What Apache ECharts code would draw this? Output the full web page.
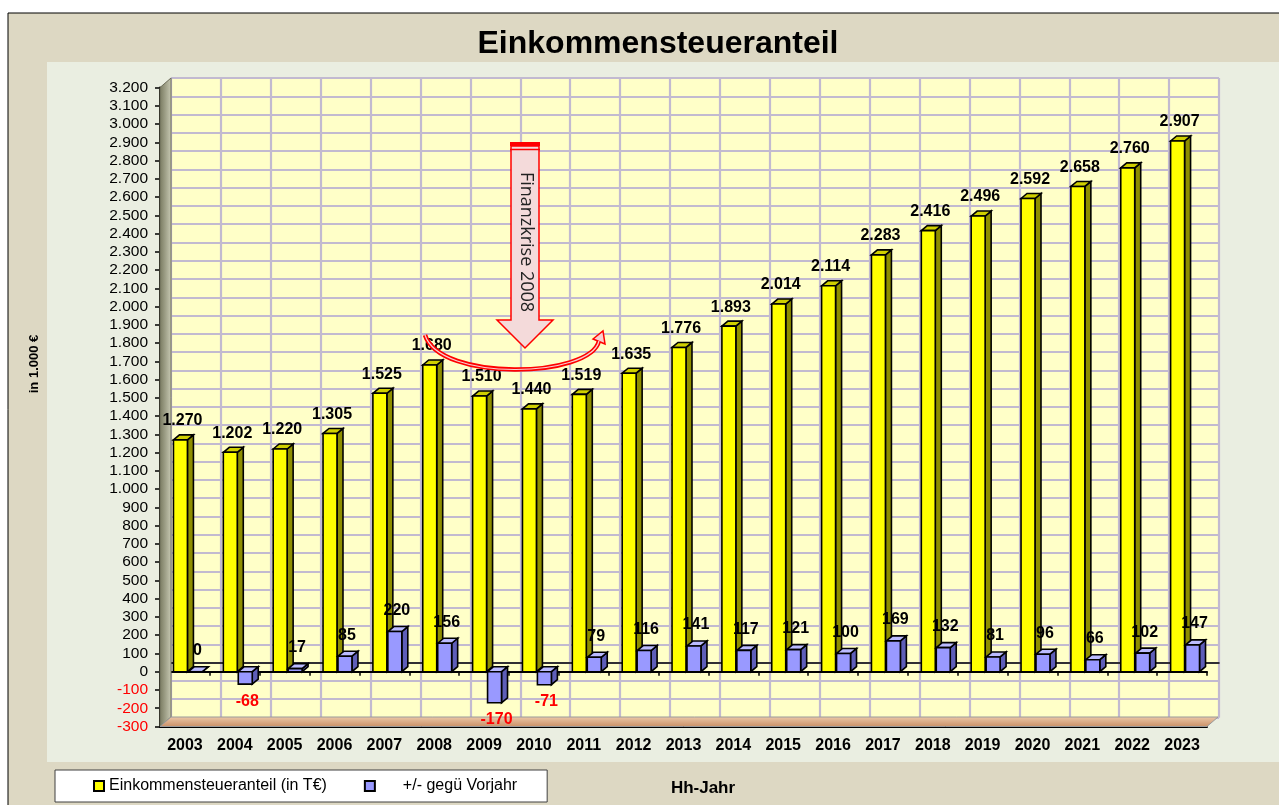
<!DOCTYPE html>
<html>
<head>
<meta charset="utf-8">
<title>Einkommensteueranteil</title>
<script src="https://cdn.jsdelivr.net/npm/echarts@6/dist/echarts.min.js"></script>
<style>
  html, body { margin: 0; padding: 0; background: #fff; }
  #chart { width: 1279px; height: 805px; }
</style>
</head>
<body>
<div id="chart"></div>
<script>
const years = ["2003", "2004", "2005", "2006", "2007", "2008", "2009", "2010", "2011", "2012", "2013",
  "2014", "2015", "2016", "2017", "2018", "2019", "2020", "2021", "2022", "2023"];
const steuerAnteil = [1270, 1202, 1220, 1305, 1525, 1680, 1510, 1440, 1519, 1635, 1776,
  1893, 2014, 2114, 2283, 2416, 2496, 2592, 2658, 2760, 2907];
const vorjahrDiff = [0, -68, 17, 85, 220, 156, -170, -71, 79, 116, 141,
  117, 121, 100, 169, 132, 81, 96, 66, 102, 147];

const FONT = "'Liberation Sans', Arial, sans-serif";
const DEPTH = [11, -9.5]; // 3D-Versatz der Rückwand
const BAR_DEPTH = [6, -5];

// 1270 -> "1.270"
function fmt(v) {
  const s = String(Math.abs(v)).replace(/\B(?=(\d{3})+(?!\d))/g, ".");
  return (v < 0 ? "-" : "") + s;
}

// ein 3D-Balken: offset/width als Anteil der Kategoriebreite
function bar3d(api, colors, offset, width, labelFn) {
  const idx = api.value(0);
  const val = api.value(1);
  const base = api.coord([idx, 0]);
  const top = api.coord([idx, val]);
  const bw = api.size([1, 0])[0];
  const x1 = base[0] + offset * bw;
  const x2 = x1 + width * bw;
  const yTop = Math.min(base[1], top[1]);
  const yBot = Math.max(base[1], top[1]);
  const dx = BAR_DEPTH[0], dy = BAR_DEPTH[1];
  const stroke = { stroke: "#000", lineWidth: 1.6 };
  const children = [
    { type: "polygon", shape: { points: [[x2, yTop], [x2 + dx, yTop + dy], [x2 + dx, yBot + dy], [x2, yBot]] },
      style: Object.assign({ fill: colors[1] }, stroke) },
    { type: "polygon", shape: { points: [[x1, yTop], [x1 + dx, yTop + dy], [x2 + dx, yTop + dy], [x2, yTop]] },
      style: Object.assign({ fill: colors[2] }, stroke) },
    { type: "rect", shape: { x: x1, y: yTop, width: x2 - x1, height: Math.max(yBot - yTop, 0.5) },
      style: Object.assign({ fill: colors[0] }, stroke) }
  ];
  const lab = labelFn(val, (x1 + x2) / 2 + 2, yTop, yBot);
  children.push({
    type: "text",
    style: { text: fmt(val), x: lab.x, y: lab.y, align: "center", verticalAlign: "middle",
      font: "bold 16px " + FONT, fill: lab.color }
  });
  return { type: "group", children: children };
}

const chart = echarts.init(document.getElementById("chart"));

chart.setOption({
  backgroundColor: "#ffffff",
  animation: false,
  title: {
    text: "Einkommensteueranteil",
    left: 653,
    top: 23,
    textAlign: "center",
    textStyle: { fontFamily: FONT, fontSize: 32, fontWeight: "bold", color: "#000" }
  },
  legend: {
    left: 55,
    top: 770,
    backgroundColor: "#ffffff",
    borderColor: "#404040",
    borderWidth: 1,
    padding: [8, 30, 8, 38],
    itemWidth: 10,
    itemHeight: 10,
    itemGap: 37,
    textStyle: { fontFamily: FONT, fontSize: 16, color: "#000" },
    data: [
      { name: "Einkommensteueranteil (in T€)", icon: "rect",
        itemStyle: { color: "#FFFF00", borderColor: "#000", borderWidth: 2 } },
      { name: "+/- gegü Vorjahr", icon: "rect",
        itemStyle: { color: "#9999FF", borderColor: "#000", borderWidth: 2 },
        textStyle: { padding: [0, 0, 0, 23] } }
    ]
  },
  graphic: [
    { type: "rect", z: -100, shape: { x: 8, y: 13, width: 1290, height: 810 },
      style: { fill: "#DDD8C3", stroke: "#000", lineWidth: 1 } },
    { type: "rect", z: -99, shape: { x: 47, y: 62, width: 1240, height: 700 },
      style: { fill: "#EAEEE1" } },
    { type: "text", z: 10, x: 34, y: 364, rotation: Math.PI / 2,
      style: { text: "in 1.000 €", font: "bold 13px " + FONT, fill: "#000", align: "center", verticalAlign: "middle" } },
    { type: "text", z: 10, x: 703, y: 788,
      style: { text: "Hh-Jahr", font: "bold 17px " + FONT, fill: "#000", align: "center", verticalAlign: "middle" } },
    // Pfeil "Finanzkrise 2008"
    { type: "polygon", z: 100,
      shape: { points: [[511, 146], [539, 146], [539, 320], [553, 320], [525, 348], [497, 320], [511, 320]] },
      style: { fill: "#F4DADA", stroke: "#FF0000", lineWidth: 1.5 } },
    { type: "rect", z: 101, shape: { x: 510, y: 142, width: 30, height: 4 }, style: { fill: "#FF0000" } },
    { type: "line", z: 101, shape: { x1: 510, y1: 149.5, x2: 540, y2: 149.5 }, style: { stroke: "#FF0000", lineWidth: 1.5 } },
    { type: "text", z: 102, x: 526, y: 242, rotation: -Math.PI / 2,
      style: { text: "Finanzkrise 2008", font: "18px 'Open Sans', sans-serif", fill: "#222", align: "center", verticalAlign: "middle" } },
    // gebogener Pfeil (hohl)
    { type: "bezierCurve", z: 100,
      shape: { x1: 425, y1: 335, cpx1: 440, cpy1: 382, cpx2: 590, cpy2: 378, x2: 599, y2: 341 },
      style: { stroke: "#FF0000", lineWidth: 4.5, fill: null } },
    { type: "bezierCurve", z: 101,
      shape: { x1: 425, y1: 335, cpx1: 440, cpy1: 382, cpx2: 590, cpy2: 378, x2: 599, y2: 341 },
      style: { stroke: "#F8D0D0", lineWidth: 1.2, fill: null } },
    { type: "polygon", z: 100, shape: { points: [[593, 339], [603, 331], [605, 344]] },
      style: { fill: "#F8D0D0", stroke: "#FF0000", lineWidth: 1.5 } }
  ],
  grid: [
    // Rückwand
    { left: 171, top: 78, width: 1048, height: 639.5, show: true,
      backgroundColor: "#FFFFC8", borderColor: "#A8A8A8", borderWidth: 1 },
    // Vorderebene
    { left: 160, top: 87.5, width: 1047, height: 639 }
  ],
  xAxis: [
    { gridIndex: 0, type: "category", data: years,
      axisLabel: { show: false }, axisTick: { show: false },
      axisLine: { show: true, onZero: true, lineStyle: { color: "#000", width: 1.5 } },
      splitLine: { show: true, lineStyle: { color: "#C2BAD0", width: 2.2 } } },
    { gridIndex: 1, type: "category", data: years,
      axisLabel: { show: false },
      axisTick: { show: true, length: 4, lineStyle: { color: "#000", width: 1.5 } },
      axisLine: { show: true, onZero: true, lineStyle: { color: "#000", width: 2 } } },
    { gridIndex: 1, type: "category", data: years, position: "bottom",
      axisLine: { show: true, onZero: false, lineStyle: { color: "#000", width: 2 } },
      axisTick: { show: false },
      axisLabel: { margin: 11, fontFamily: FONT, fontSize: 16, fontWeight: "bold", color: "#000" } }
  ],
  yAxis: [
    { gridIndex: 0, type: "value", min: -300, max: 3200, interval: 100,
      axisLabel: { show: false }, axisLine: { show: false }, axisTick: { show: false },
      splitLine: { show: true, lineStyle: { color: "#C2BAD0", width: 2.2 } } },
    { gridIndex: 1, type: "value", min: -300, max: 3200, interval: 100,
      splitLine: { show: false },
      axisLine: { show: true, lineStyle: { color: "#000", width: 2 } },
      axisTick: { show: true, length: 5, lineStyle: { color: "#000", width: 1.5 } },
      axisLabel: { margin: 12, fontFamily: FONT, fontSize: 15.5, formatter: fmt,
        color: (v) => (Number(v) < 0 ? "#FF0000" : "#000") } }
  ],
  series: [
    {
      // linke Seitenwand und Boden
      type: "custom",
      name: "rahmen",
      xAxisIndex: 1,
      yAxisIndex: 1,
      z: 1,
      silent: true,
      data: [[0, 0]],
      renderItem: function (params, api) {
        const bw = api.size([1, 0])[0];
        const left = api.coord([0, 0])[0] - bw / 2;
        const right = api.coord([years.length - 1, 0])[0] + bw / 2;
        const top = api.coord([0, 3200])[1];
        const bot = api.coord([0, -300])[1];
        const dx = DEPTH[0], dy = DEPTH[1];
        return {
          type: "group",
          children: [
            { type: "polygon",
              shape: { points: [[left, top], [left + dx, top + dy], [left + dx, bot + dy], [left, bot]] },
              style: { fill: new echarts.graphic.LinearGradient(0, 0, 1, 0, [
                { offset: 0, color: "#77785E" }, { offset: 1, color: "#C9CAB4" }]), stroke: "#6E6E5A", lineWidth: 1 } },
            { type: "polygon",
              shape: { points: [[left, bot], [right, bot], [right + dx, bot + dy], [left + dx, bot + dy]] },
              style: { fill: new echarts.graphic.LinearGradient(0, 0, 0, 1, [
                { offset: 0, color: "#ECC9AA" }, { offset: 1, color: "#C98F65" }]), stroke: "#9A9A9A", lineWidth: 1 } }
          ]
        };
      }
    },
    {
      type: "custom",
      name: "Einkommensteueranteil (in T€)",
      xAxisIndex: 1,
      yAxisIndex: 1,
      z: 3,
      itemStyle: { color: "#FFFF00", borderColor: "#000", borderWidth: 2 },
      data: steuerAnteil.map((v, i) => [i, v]),
      renderItem: function (params, api) {
        return bar3d(api, ["#FFFF00", "#8E8E00", "#D0D000"], -0.23, 0.28, function (val, cx, yTop) {
          return { x: cx, y: yTop - 19, color: "#000" };
        });
      }
    },
    {
      type: "custom",
      name: "+/- gegü Vorjahr",
      xAxisIndex: 1,
      yAxisIndex: 1,
      z: 3,
      itemStyle: { color: "#9999FF", borderColor: "#000", borderWidth: 2 },
      data: vorjahrDiff.map((v, i) => [i, v]),
      renderItem: function (params, api) {
        return bar3d(api, ["#9999FF", "#5E5EB8", "#BBBBFF"], 0.07, 0.28, function (val, cx, yTop, yBot) {
          if (val < 0) return { x: cx, y: yBot + 17, color: "#FF0000" };
          return { x: cx, y: yTop - 21, color: "#000" };
        });
      }
    }
  ]
});
</script>
</body>
</html>
